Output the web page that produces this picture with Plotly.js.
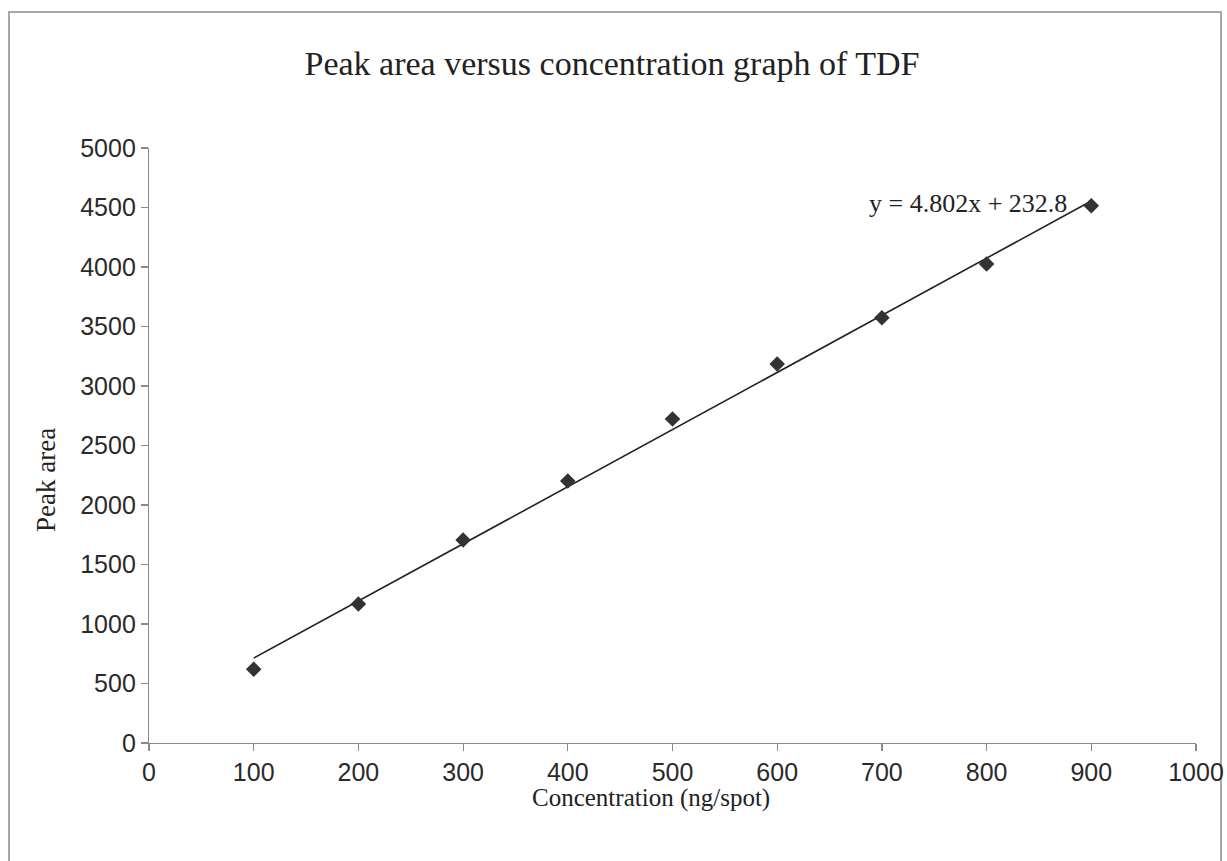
<!DOCTYPE html>
<html>
<head>
<meta charset="utf-8">
<script src="https://cdn.plot.ly/plotly-3.0.1.min.js"></script>
<style>
  html, body { margin: 0; padding: 0; background: #fff; }
  #chart { width: 1227px; height: 861px; }
</style>
</head>
<body>
<div id="chart"></div>
<script>
// Calibration data for TDF: concentration (ng/spot) vs. peak area
const concentration = [100, 200, 300, 400, 500, 600, 700, 800, 900];
const peakArea = [620, 1168, 1706, 2202, 2723, 3185, 3574, 4025, 4515];

// Linear trendline as reported in the equation label
const slope = 4.802;
const intercept = 232.8;
const fitX = [100, 900];

const xTicks = [0, 100, 200, 300, 400, 500, 600, 700, 800, 900, 1000];
const yTicks = [0, 500, 1000, 1500, 2000, 2500, 3000, 3500, 4000, 4500, 5000];

const fitY = fitX.map(x => slope * x + intercept);
const eqText = 'y = ' + slope.toFixed(3) + 'x + ' + intercept.toFixed(1);

// plot-area geometry in pixels (used to place the frame and labels in paper units)
const W = 1227, H = 861;
const m = { l: 149, r: 31, t: 148, b: 118 };
const pw = W - m.l - m.r, ph = H - m.t - m.b;
const px = v => (v - m.l) / pw;
const py = v => (H - m.b - v) / ph;

const serif = 'Liberation Serif, Times New Roman, serif';
const sans = 'Liberation Sans, Arial, sans-serif';

const traces = [
  {
    x: fitX, y: fitY, mode: 'lines', type: 'scatter',
    line: { color: '#222', width: 1.6 },
    hoverinfo: 'skip', showlegend: false
  },
  {
    x: concentration, y: peakArea, mode: 'markers', type: 'scatter',
    marker: { symbol: 'diamond', size: 12, color: '#333' },
    showlegend: false
  }
];

const axisCommon = {
  showgrid: false, zeroline: false,
  showline: true, linecolor: '#8a8a8a', linewidth: 1.2,
  ticks: 'outside', ticklen: 7, tickcolor: '#8a8a8a', tickwidth: 1.2,
  tickfont: { family: sans, size: 25, color: '#2a2a2a' },
  tickmode: 'array', fixedrange: true
};

const layout = {
  width: W, height: H,
  margin: m,
  paper_bgcolor: '#fff', plot_bgcolor: '#fff',
  title: {
    text: 'Peak area versus concentration graph of TDF',
    font: { family: serif, size: 34, color: '#222' },
    x: 612 / W, xanchor: 'center', xref: 'container',
    y: 1 - 63 / H, yanchor: 'middle', yref: 'container'
  },
  xaxis: Object.assign({}, axisCommon, {
    range: [0, 1000], tickvals: xTicks, ticktext: xTicks.map(String)
  }),
  yaxis: Object.assign({}, axisCommon, {
    range: [0, 5000], tickvals: yTicks, ticktext: yTicks.map(String)
  }),
  annotations: [
    {
      x: 900, y: slope * 900 + intercept, xref: 'x', yref: 'y',
      text: eqText, showarrow: false,
      xanchor: 'right', yanchor: 'middle', xshift: -22, yshift: -2,
      font: { family: serif, size: 26, color: '#222' }
    },
    {
      x: px(651), y: py(798), xref: 'paper', yref: 'paper',
      text: 'Concentration (ng/spot)', showarrow: false,
      xanchor: 'center', yanchor: 'middle',
      font: { family: serif, size: 25, color: '#222' }
    },
    {
      x: px(46), y: py(480), xref: 'paper', yref: 'paper',
      text: 'Peak area', showarrow: false, textangle: -90,
      xanchor: 'center', yanchor: 'middle',
      font: { family: serif, size: 27, color: '#222' }
    }
  ],
  shapes: [{
    type: 'rect', xref: 'paper', yref: 'paper',
    x0: px(9), x1: px(1221), y0: py(870), y1: py(12),
    line: { color: '#a8a8a8', width: 2 }, fillcolor: 'rgba(0,0,0,0)', layer: 'below'
  }],
  showlegend: false
};

Plotly.newPlot('chart', traces, layout, { displayModeBar: false, staticPlot: true });
</script>
</body>
</html>
